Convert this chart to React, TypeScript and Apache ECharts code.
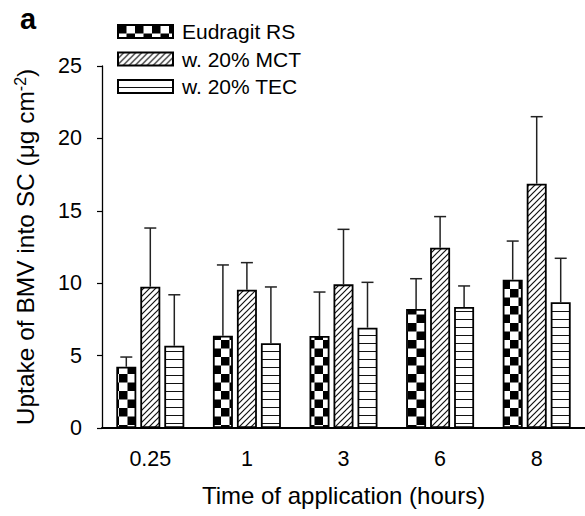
import React, { useEffect, useRef } from "react";
import * as echarts from "echarts";

const categories = ["0.25", "1", "3", "6", "8"];
const seriesNames = ["Eudragit RS", "w. 20% MCT", "w. 20% TEC"];
const eudragitMean = [4.23, 6.37, 6.35, 8.22, 10.24];
const eudragitSD = [0.67, 4.89, 3.04, 2.09, 2.67];
const mctMean = [9.76, 9.55, 9.92, 12.45, 16.87];
const mctSD = [4.05, 1.87, 3.8, 2.15, 4.63];
const tecMean = [5.68, 5.85, 6.93, 8.36, 8.68];
const tecSD = [3.52, 3.89, 3.13, 1.45, 3.04];
const yMin = 0;
const yMax = 25;
const yInterval = 5;

const FONT = "'Liberation Sans', Arial, sans-serif";

function tile(w: number, h: number, draw: (g: CanvasRenderingContext2D) => void) {
  const c = document.createElement("canvas");
  c.width = w;
  c.height = h;
  const g = c.getContext("2d")!;
  g.fillStyle = "#fff";
  g.fillRect(0, 0, w, h);
  draw(g);
  return { image: c.toDataURL(), repeat: "repeat", imageWidth: w, imageHeight: h };
}

export default function App() {
  const ref = useRef<HTMLDivElement>(null);
  useEffect(() => {
    if (!ref.current) return;
    const chart = echarts.init(ref.current, null, { renderer: "svg" });

    const checker = tile(17, 17, (g) => {
      g.fillStyle = "#000";
      g.fillRect(0, 0, 8.5, 8.5);
      g.fillRect(8.5, 8.5, 8.5, 8.5);
    });
    const hatch = tile(6, 6, (g) => {
      g.strokeStyle = "#111";
      g.lineWidth = 1.2;
      g.beginPath();
      g.moveTo(-1, 7);
      g.lineTo(7, -1);
      g.moveTo(-4, 4);
      g.lineTo(4, -4);
      g.moveTo(2, 10);
      g.lineTo(10, 2);
      g.stroke();
    });
    const hlines = tile(8, 8, (g) => {
      g.fillStyle = "#111";
      g.fillRect(0, 7, 8, 1.3);
    });

    const patterns = [checker, hatch, hlines];
    const means = [eudragitMean, mctMean, tecMean];
    const sds = [eudragitSD, mctSD, tecSD];
    const barWidth = 20;
    const gapPx = 4;

    const barSeries = seriesNames.map((name, i) => ({
      name,
      type: "bar",
      data: means[i],
      barWidth,
      barGap: `${(gapPx / barWidth) * 100}%`,
      itemStyle: {
        color: patterns[i] as any,
        borderColor: "#000",
        borderWidth: 1.8,
      },
      z: 2,
    }));

    const errSeries = seriesNames.map((name, i) => ({
      name: name + " error",
      type: "custom",
      z: 3,
      data: categories.map((_, k) => [k, means[i][k], sds[i][k]]),
      encode: { x: 0, y: 1 },
      renderItem: (params: any, api: any) => {
        const k = api.value(0);
        const m = api.value(1);
        const s = api.value(2);
        const base = api.coord([k, m]);
        const top = api.coord([k, m + s]);
        const x = base[0] + (i - 1) * (barWidth + gapPx);
        const st = { stroke: "#222", lineWidth: 1.5 };
        return {
          type: "group",
          children: [
            { type: "line", shape: { x1: x, y1: base[1], x2: x, y2: top[1] }, style: st },
            { type: "line", shape: { x1: x - 6, y1: top[1], x2: x + 6, y2: top[1] }, style: st },
          ],
        };
      },
    }));

    chart.setOption({
      animation: false,
      backgroundColor: "#fff",
      textStyle: { fontFamily: FONT },
      grid: { left: 102, top: 66, bottom: 88, right: -2, containLabel: false },
      legend: {
        data: seriesNames,
        orient: "vertical",
        left: 112,
        top: 16,
        icon: "rect",
        itemWidth: 55,
        itemHeight: 13,
        itemGap: 6.5,
        textStyle: { fontFamily: FONT, fontSize: 21, color: "#000", padding: [0, 0, 0, 4] },
      },
      xAxis: {
        type: "category",
        data: categories,
        axisLine: { lineStyle: { color: "#000", width: 2 } },
        axisTick: { alignWithLabel: true, length: 6, lineStyle: { color: "#000", width: 1.2 } },
        axisLabel: { fontFamily: FONT, fontSize: 21.5, color: "#000", margin: 20 },
        name: "Time of application (hours)",
        nameLocation: "middle",
        nameGap: 55,
        nameTextStyle: { fontFamily: FONT, fontSize: 24, color: "#000" },
      },
      yAxis: {
        type: "value",
        min: yMin,
        max: yMax,
        interval: yInterval,
        splitLine: { show: false },
        axisLine: { show: true, lineStyle: { color: "#000", width: 1.3 } },
        axisTick: { show: true, length: 5, lineStyle: { color: "#000", width: 1.2 } },
        axisLabel: { fontFamily: FONT, fontSize: 21.5, color: "#000", margin: 20 },
        name: "Uptake of BMV into SC (μg cm{sup|-2})",
        nameLocation: "middle",
        nameGap: 64,
        nameTextStyle: {
          fontFamily: FONT,
          fontSize: 24.5,
          color: "#000",
          rich: {
            sup: { fontFamily: FONT, fontSize: 16, color: "#000", verticalAlign: "top", padding: [0, 0, 10, 0] },
          },
        },
      },
      graphic: [
        {
          type: "text",
          left: 20,
          top: 4,
          style: { text: "a", fontFamily: FONT, fontWeight: "bold", fontSize: 29, fill: "#000" },
        },
      ],
      series: [...barSeries, ...errSeries],
    });

    return () => chart.dispose();
  }, []);

  return <div ref={ref} style={{ position: "absolute", left: 0, top: 0, width: 585, height: 516 }} />;
}
